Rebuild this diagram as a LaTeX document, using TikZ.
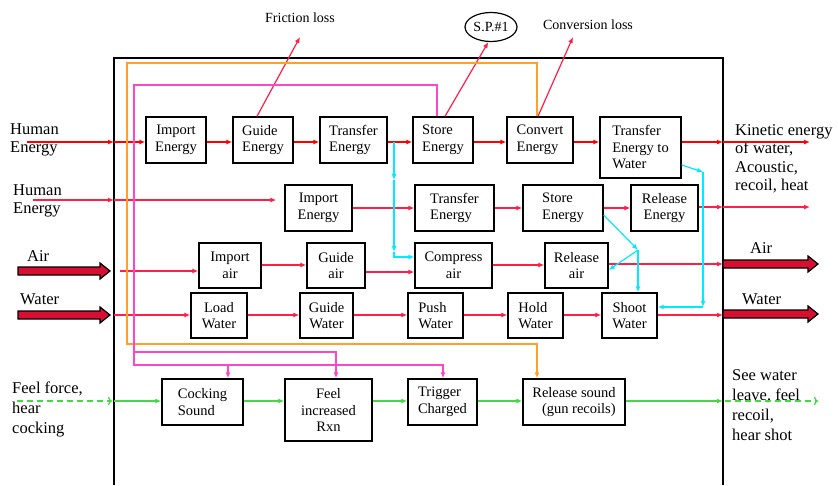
\documentclass[tikz,border=0pt]{standalone}
\usepackage{fontspec}
\setmainfont{Liberation Serif}
\usepackage{xcolor}
\usetikzlibrary{arrows.meta,shapes.geometric}

\definecolor{flowred}{RGB}{255,0,0}
\definecolor{rowred}{RGB}{255,30,70}
\definecolor{fatred}{RGB}{215,15,50}
\definecolor{sigcyan}{RGB}{0,235,255}
\definecolor{lineorange}{RGB}{255,160,40}
\definecolor{linepink}{RGB}{255,70,200}
\definecolor{feelgreen}{RGB}{70,215,70}

\tikzset{
  blk/.style={draw, line width=1.4pt, inner xsep=3pt, inner ysep=0pt,
    minimum height=46pt, font=\fontsize{14.5}{16.5}\selectfont},
  side/.style={anchor=north west, inner sep=0pt, align=left,
    font=\fontsize{16.5}{18}\selectfont},
  note/.style={inner sep=0pt, font=\fontsize{14}{16}\selectfont},
  tip/.style={-{Latex[length=6pt,width=5pt]}},
  flow/.style={draw=flowred, line width=1.2pt, tip},
  rowflow/.style={draw=rowred, line width=1.2pt, tip},
  sig/.style={draw=sigcyan, line width=1.2pt, tip},
  orangeline/.style={draw=lineorange, line width=1.2pt, tip},
  pinkline/.style={draw=linepink, line width=1.2pt, tip},
  feel/.style={draw=feelgreen, line width=1.2pt, tip},
  feeldash/.style={draw=feelgreen, line width=1.2pt, dash pattern=on 6pt off 4pt, -{To[length=4pt]}},
  fat/.style={draw=black, line width=1.2pt, fill=fatred},
  frame/.style={draw=black, line width=1.4pt}
}

\begin{document}
\begin{tikzpicture}[x=1pt,y=-1pt]
\useasboundingbox (0,0) rectangle (838,485);

% system boundary
\draw[frame] (114,485) -- (114,58) -- (723,58) -- (723,485);

% row 1: human energy
\node[blk, minimum width=60pt, align=center] (ie1) at (176,140) {Import\\Energy};
\node[blk, minimum width=60pt, align=left] (ge1) at (263,140) {Guide\\Energy};
\node[blk, minimum width=67pt, align=left] (te1) at (353.5,140) {Transfer\\Energy};
\node[blk, minimum width=60pt, align=left] (se1) at (443,140) {Store\\Energy};
\node[blk, minimum width=66pt, align=left] (ce1) at (540,140) {Convert\\Energy};
\node[blk, minimum width=81pt, minimum height=61pt, align=left] (tw1) at (640.5,147.5) {Transfer\\Energy to\\Water};

% row 2: human energy
\node[blk, minimum width=67pt, align=center] (ie2) at (318.5,208) {Import\\Energy};
\node[blk, minimum width=79pt, align=left] (te2) at (454.5,208) {Transfer\\Energy};
\node[blk, minimum width=80pt, align=left] (se2) at (563,208) {Store\\Energy};
\node[blk, minimum width=67pt, align=center] (re2) at (664.5,208) {Release\\Energy};

% row 3: air
\node[blk, minimum width=62pt, minimum height=45pt, align=center] (ia3) at (230,265.5) {Import\\air};
\node[blk, minimum width=58pt, minimum height=45pt, align=center] (ga3) at (336,265.5) {Guide\\air};
\node[blk, minimum width=77pt, minimum height=45pt, align=center] (ca3) at (453.5,265.5) {Compress\\air};
\node[blk, minimum width=63pt, minimum height=45pt, align=center] (ra3) at (576.5,265.5) {Release\\air};

% row 4: water
\node[blk, minimum width=56pt, minimum height=45pt, align=center] (lw4) at (219,315.5) {Load\\Water};
\node[blk, minimum width=53pt, minimum height=45pt, align=center] (gw4) at (326.5,315.5) {Guide\\Water};
\node[blk, minimum width=55pt, minimum height=45pt, align=left] (pw4) at (435.5,315.5) {Push\\Water};
\node[blk, minimum width=55pt, minimum height=45pt, align=left] (hw4) at (535.5,315.5) {Hold\\Water};
\node[blk, minimum width=55pt, minimum height=45pt, align=center] (sw4) at (629.5,315.5) {Shoot\\Water};

% row 5: signals
\node[blk, minimum width=81pt, align=left] (cs5) at (202.5,402) {Cocking\\Sound};
\node[blk, minimum width=87pt, minimum height=62pt, align=center] (fr5) at (328.5,410) {Feel\\increased\\Rxn};
\node[blk, minimum width=69pt, align=left] (tc5) at (442.5,402) {Trigger\\Charged};
\node[blk, minimum width=102pt, align=right] (rs5) at (574,402) {Release sound\\(gun recoils)};

% outside labels
\node[side] (hu1) at (10,123) {Human\\Energy};
\node[side] (hu2) at (13,184) {Human\\Energy};
\node[side] (air1) at (27,250) {Air};
\node[side] (wat1) at (20,293) {Water};
\node[side, font=\fontsize{16.5}{20}\selectfont] (ff) at (12,382) {Feel force,\\hear\\cocking};
\node[side, font=\fontsize{16.5}{18.5}\selectfont] (ke) at (735,124) {Kinetic energy\\of water,\\Acoustic,\\recoil, heat};
\node[side] (air2) at (750,242) {Air};
\node[side] (wat2) at (742,293) {Water};
\node[side, font=\fontsize{16.5}{20}\selectfont] (sw) at (732,369) {See water\\leave, feel\\recoil,\\hear shot};
\node[note] (fl) at (300,18) {Friction loss};
\node[note] (cl) at (588,25) {Conversion loss};
\node[note, draw, line width=1.2pt, ellipse, minimum width=52pt, minimum height=29pt] (sp) at (491,27) {S.P.\#1};

% end points
\coordinate (in1) at (27,142);  \coordinate (f1) at (114,142);
\coordinate (o1) at (723,142);  \coordinate (e1) at (810,142);
\coordinate (in2) at (33,200);  \coordinate (f2) at (114,200);
\coordinate (o2) at (723,207);  \coordinate (e2) at (810,207);
\coordinate (a3) at (120,271);  \coordinate (o3) at (723,264);
\coordinate (w4) at (114,315);  \coordinate (o4) at (723,315);
\coordinate (in5) at (17,401);  \coordinate (f5) at (112,401);
\coordinate (g5) at (114,401);  \coordinate (o5) at (723,401);
\coordinate (d5) at (725,401);  \coordinate (e5) at (818,401);
\coordinate (flend) at (300,37);
\coordinate (clend) at (573,37);

% big arrows for air and water
\draw[fat] (18,267) -- (100,267) -- (100,263) -- (110,271) -- (100,279) -- (100,275) -- (18,275) -- cycle;
\draw[fat] (18,311) -- (100,311) -- (100,307) -- (110,315) -- (100,323) -- (100,319) -- (18,319) -- cycle;
\draw[fat] (723,260) -- (808,260) -- (808,256) -- (818,264) -- (808,272) -- (808,268) -- (723,268) -- cycle;
\draw[fat] (723,310) -- (808,310) -- (808,306) -- (818,314) -- (808,322) -- (808,318) -- (723,318) -- cycle;

% row 1 flow
\draw[flow] (in1) -- (f1);
\draw[flow] (f1) -- (ie1.west |- f1);
\draw[flow] (ie1.east |- f1) -- (ge1.west |- f1);
\draw[flow] (ge1.east |- f1) -- (te1.west |- f1);
\draw[flow] (te1.east |- f1) -- (se1.west |- f1);
\draw[flow] (se1.east |- f1) -- (ce1.west |- f1);
\draw[flow] (ce1.east |- f1) -- (tw1.west |- f1);
\draw[flow] (tw1.east |- o1) -- (o1);
\draw[flow] (o1) -- (e1);

% losses
\draw[rowflow] ([xshift=-6pt]ge1.north) -- (flend);
\draw[rowflow] ([xshift=2pt]se1.north) -- (sp.-100);
\draw[rowflow] ([xshift=-2pt]ce1.north) -- (clend);

% row 2 flow
\draw[rowflow] (in2) -- (f2);
\draw[rowflow, shorten >=8pt] (f2) -- (ie2.west |- f2);
\draw[rowflow] (ie2.east) -- (te2.west);
\draw[rowflow] (te2.east) -- (se2.west);
\draw[rowflow] (se2.east) -- (re2.west);
\draw[rowflow] (re2.east |- o2) -- (o2);
\draw[rowflow] (o2) -- (e2);

% row 3 flow
\draw[rowflow] (a3) -- (a3 -| ia3.west);
\draw[rowflow] ([yshift=0.5pt]ia3.east) -- ([yshift=0.5pt]ga3.west);
\draw[rowflow] ([yshift=-6.5pt]ga3.east) -- ([yshift=-6.5pt]ca3.west);
\draw[rowflow] ([yshift=0.5pt]ca3.east) -- ([yshift=0.5pt]ra3.west);
\draw[rowflow] (ra3.east |- o3) -- (o3);

% row 4 flow
\draw[rowflow] (w4) -- (w4 -| lw4.west);
\draw[rowflow] (lw4.east |- w4) -- (gw4.west |- w4);
\draw[rowflow] (gw4.east |- w4) -- (pw4.west |- w4);
\draw[rowflow] (pw4.east |- w4) -- (hw4.west |- w4);
\draw[rowflow] (hw4.east |- w4) -- (sw4.west |- w4);
\draw[rowflow] (sw4.east |- o4) -- (o4);

% row 5 flow
\draw[feeldash] (in5) -- (f5);
\draw[feel] (g5) -- (g5 -| cs5.west);
\draw[feel] (cs5.east |- g5) -- (fr5.west |- g5);
\draw[feel] (fr5.east |- g5) -- (tc5.west |- g5);
\draw[feel] (tc5.east |- g5) -- (rs5.west |- g5);
\draw[feel] (rs5.east |- o5) -- (o5);
\draw[feeldash] (d5) -- (e5);

% cyan links
\coordinate (c1a) at (394,142);
\coordinate (c1b) at (394,180);
\coordinate (c1c) at (394,252);
\coordinate (c1d) at (394,257);
\draw[sig] (c1a) -- (c1b);
\draw[sig] (c1b) -- (c1c);
\draw[sig] (c1c) -- (c1d) -- (ca3.west |- c1d);
\coordinate (c2) at (638,250);
\draw[sig] ([yshift=-7pt]se2.east) -- (c2);
\draw[sig] (c2) -- ([yshift=-4.5pt]ra3.east);
\draw[sig] (c2) -- (c2 |- sw4.north);
\coordinate (c3a) at (703,172);
\coordinate (c3b) at (703,307);
\draw[sig] ([yshift=-17.5pt]tw1.east) -- (c3a);
\draw[sig] (c3a) -- (c3b);
\draw[sig] (c3b) -- (sw4.east |- c3b);

% orange and pink links
\coordinate (or1) at (127,63);
\coordinate (or2) at (127,344);
\draw[orangeline] ([xshift=-3pt]ce1.north) |- (or1) -- (or2) -| ([xshift=-37pt]rs5.north);
\coordinate (pk1) at (134,85);
\coordinate (pk2) at (134,365);
\coordinate (pk3) at (134,352);
\coordinate (pk4) at (228,365);
\draw[pinkline] ([xshift=-6pt]se1.north) |- (pk1) -- (pk2) -| ([xshift=0.5pt]tc5.north);
\draw[pinkline] (pk3) -| ([xshift=7.5pt]fr5.north);
\draw[pinkline] (pk4) -- (pk4 |- cs5.north);
\end{tikzpicture}
\end{document}
